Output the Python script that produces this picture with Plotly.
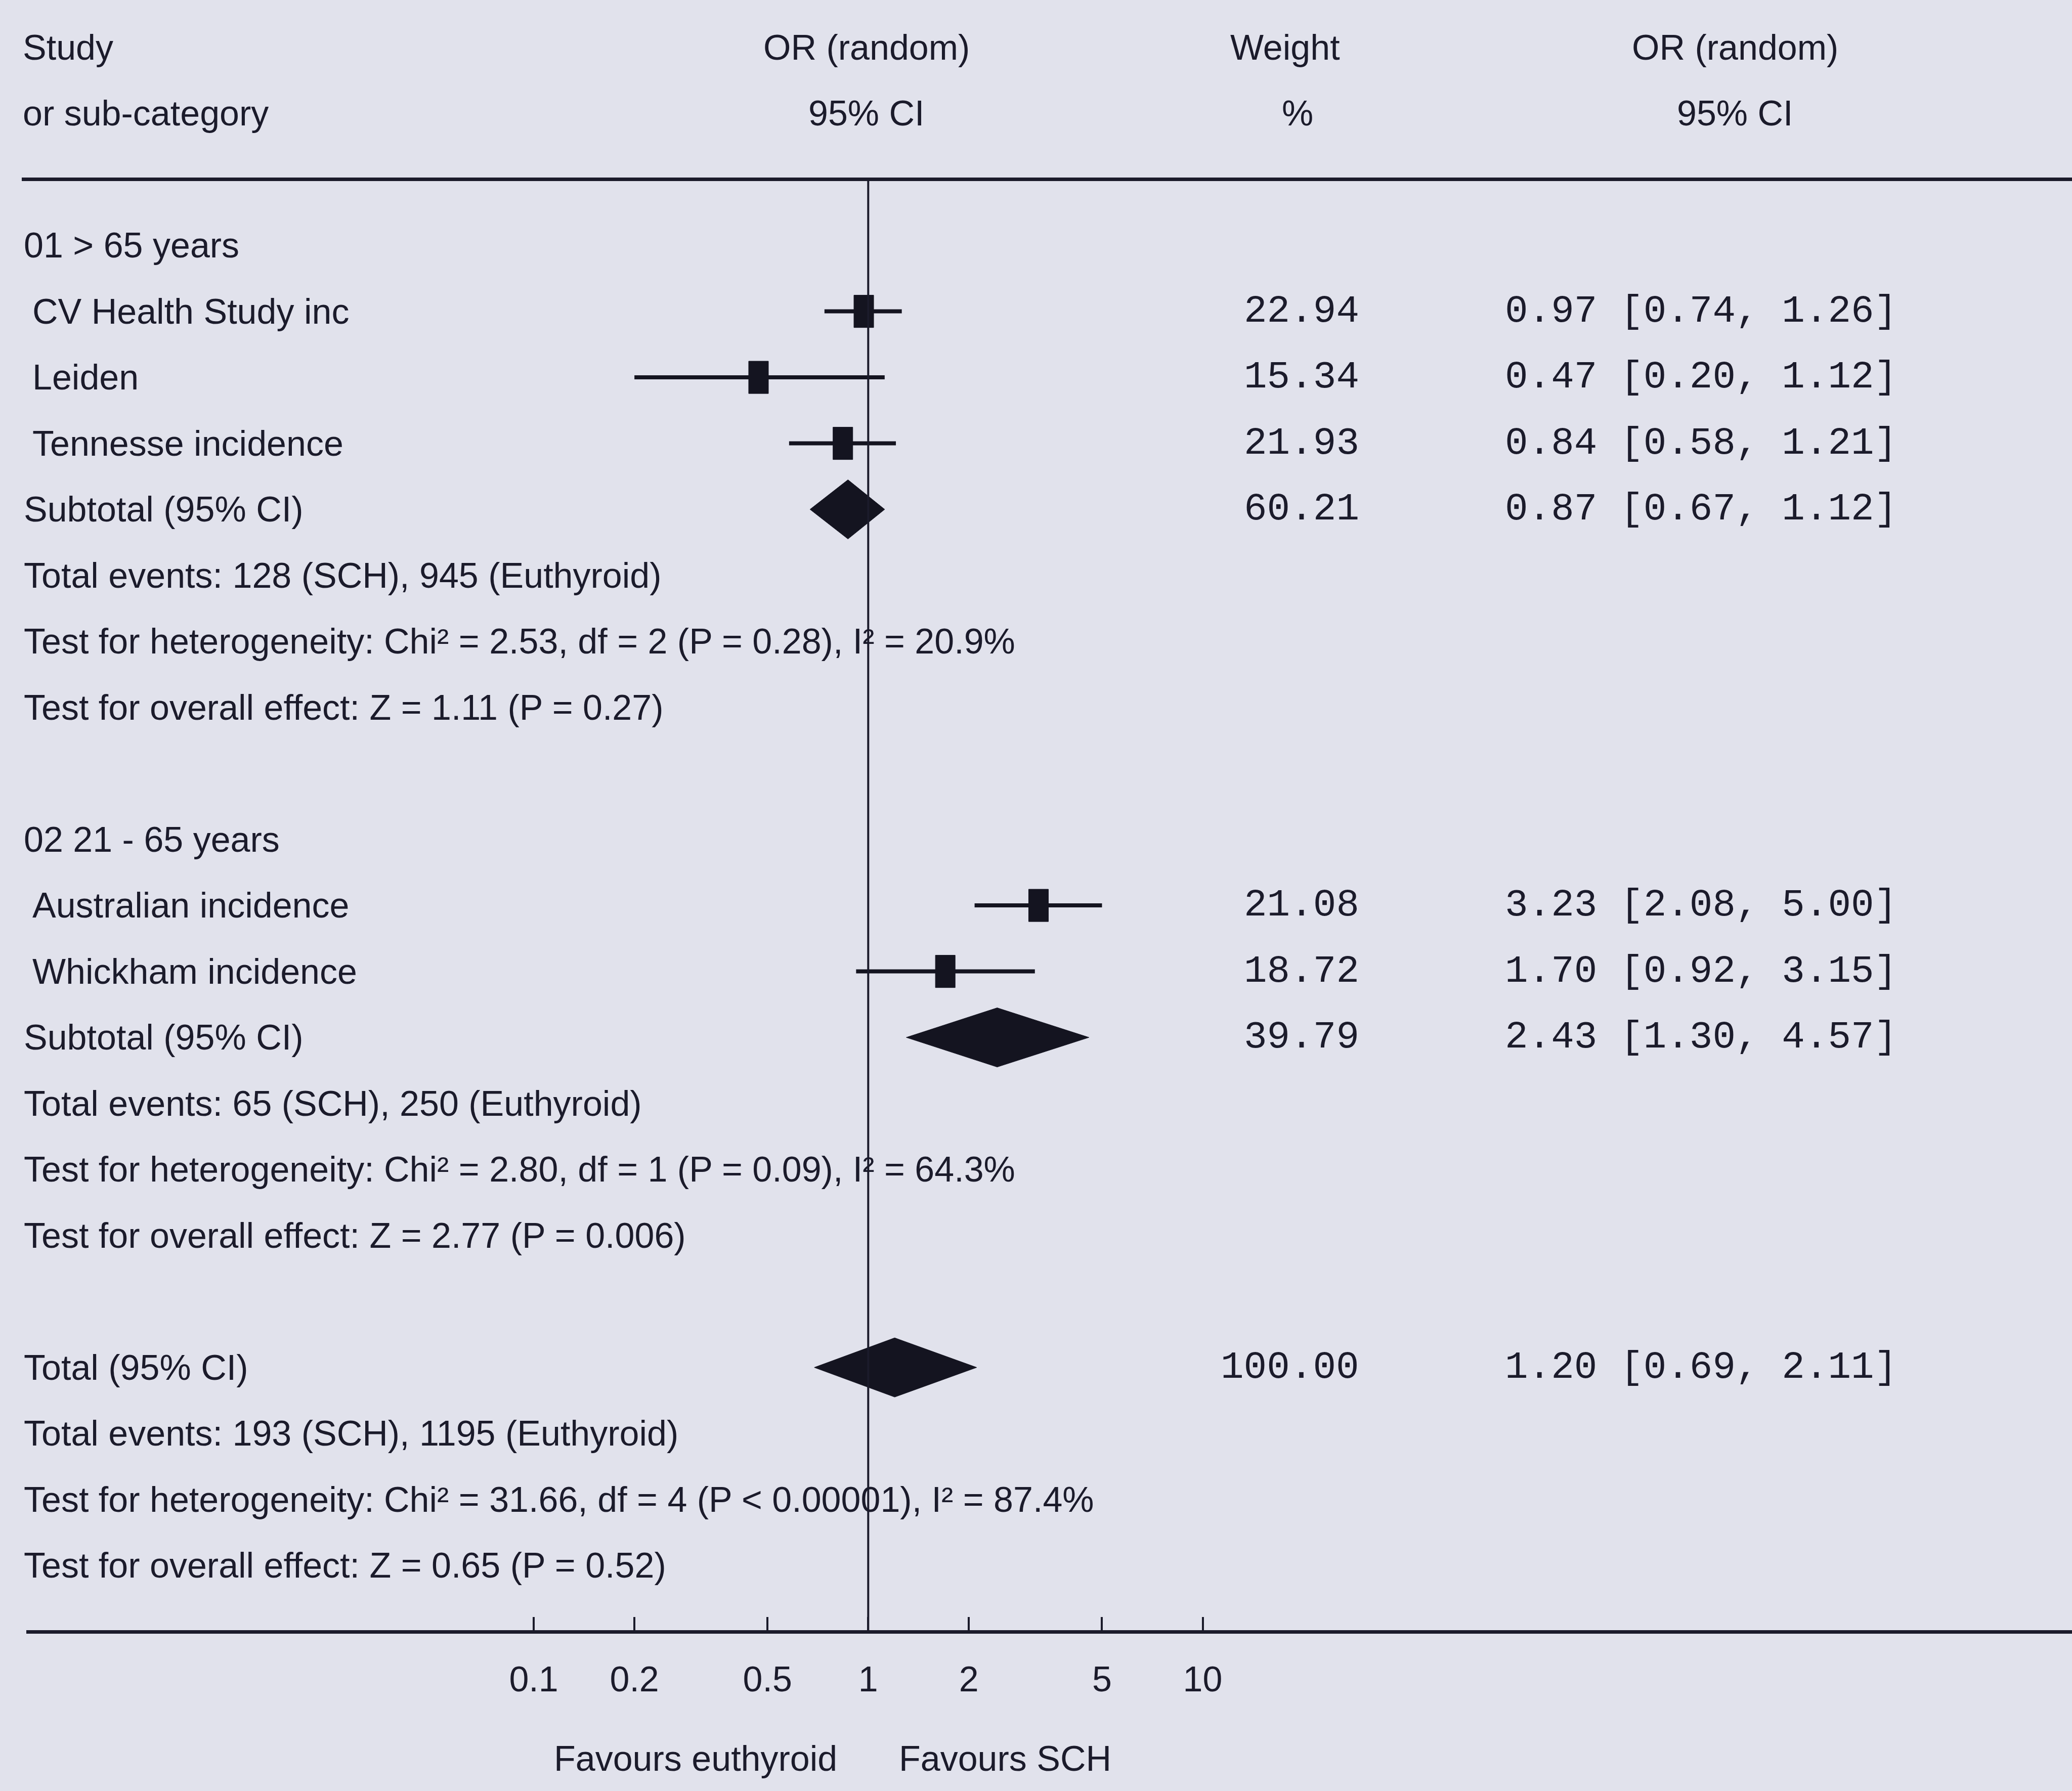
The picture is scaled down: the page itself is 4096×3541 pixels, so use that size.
import plotly.graph_objects as go

# ---------------- data ----------------
group_labels = ["01 > 65 years", "02 21 - 65 years"]

study_names = ["CV Health Study inc", "Leiden", "Tennesse incidence",
               "Australian incidence", "Whickham incidence"]
study_group = [0, 0, 0, 1, 1]
study_or = [0.97, 0.47, 0.84, 3.23, 1.70]
study_lo = [0.74, 0.20, 0.58, 2.08, 0.92]
study_hi = [1.26, 1.12, 1.21, 5.00, 3.15]
study_weight = [22.94, 15.34, 21.93, 21.08, 18.72]

subtotal_or = [0.87, 2.43]
subtotal_lo = [0.67, 1.30]
subtotal_hi = [1.12, 4.57]
subtotal_weight = [60.21, 39.79]

total_or = 1.20
total_lo = 0.69
total_hi = 2.11
total_weight = 100.00

events_text = ["Total events: 128 (SCH), 945 (Euthyroid)",
               "Total events: 65 (SCH), 250 (Euthyroid)",
               "Total events: 193 (SCH), 1195 (Euthyroid)"]
heterogeneity_text = ["Test for heterogeneity: Chi² = 2.53, df = 2 (P = 0.28), I² = 20.9%",
                      "Test for heterogeneity: Chi² = 2.80, df = 1 (P = 0.09), I² = 64.3%",
                      "Test for heterogeneity: Chi² = 31.66, df = 4 (P < 0.00001), I² = 87.4%"]
effect_text = ["Test for overall effect: Z = 1.11 (P = 0.27)",
               "Test for overall effect: Z = 2.77 (P = 0.006)",
               "Test for overall effect: Z = 0.65 (P = 0.52)"]

header_left = ["Study", "or sub-category"]
header_or = ["OR (random)", "95% CI"]
header_weight = ["Weight", "%"]

tick_values = [0.1, 0.2, 0.5, 1, 2, 5, 10]
tick_labels = ["0.1", "0.2", "0.5", "1", "2", "5", "10"]
favours_left = "Favours euthyroid"
favours_right = "Favours SCH"

# ---------------- geometry / style ----------------
W, H = 4096, 3541
ROW0, ROW_H = 485.1, 130.5          # pixel centre of first row, row spacing
X_LEFT = 52                          # where x axis line starts
P01, DEC = 1055.1, 661.2             # pixel of OR=0.1, pixels per decade
r0 = -1 - (P01 - X_LEFT) / DEC
r1 = -1 + (W - P01) / DEC

BG = "#E1E2EC"
INK = "#1b1b2b"
MARK = "#141420"
SANS = "Liberation Sans, Arial, sans-serif"
MONO = "Liberation Mono, Courier New, monospace"
FS = 70
FM = 76

X_TEXT = 45
X_STUDY = 62
X_OR_HDR = 1713
X_W_HDR = 2540
X_W_PCT = 2565
X_W_RIGHT = 2689
X_CI_LEFT = 2973
X_CI_HDR = 3430

SQ_HALF_W = 19.5 / DEC               # decades
SQ_HALF_H = 32.0 / ROW_H             # rows
DIA_HALF_H = 58.5 / ROW_H


def px(p):
    return p / W


def ci_str(o, lo, hi):
    return f"{o:.2f} [{lo:.2f}, {hi:.2f}]"


fig = go.Figure()
ann = []


def text(x, y, s, anchor="left", font=SANS, size=FS):
    ann.append(dict(x=px(x), y=y, xref="paper", yref="y", text=s, showarrow=False,
                    xanchor=anchor, yanchor="middle",
                    font=dict(family=font, size=size, color=INK)))


def diamond(o, lo, hi, k):
    fig.add_trace(go.Scatter(x=[lo, o, hi, o, lo],
                             y=[k, k - DIA_HALF_H, k, k + DIA_HALF_H, k],
                             mode="lines", fill="toself", fillcolor=MARK,
                             line=dict(color=MARK, width=1), hoverinfo="skip",
                             showlegend=False))


# headers
for i in range(2):
    text(X_TEXT - 2, -3 + i, header_left[i])
    text(X_OR_HDR, -3 + i, header_or[i], anchor="center")
    text(X_CI_HDR, -3 + i, header_or[i], anchor="center")
text(X_W_HDR, -3, header_weight[0], anchor="center")
text(X_W_PCT, -2, header_weight[1], anchor="center")

row = 0
for g, glabel in enumerate(group_labels):
    text(X_TEXT, row, glabel)
    row += 1
    for i, name in enumerate(study_names):
        if study_group[i] != g:
            continue
        text(X_STUDY, row, name)
        text(X_W_RIGHT, row, f"{study_weight[i]:.2f}", anchor="right", font=MONO, size=FM)
        text(X_CI_LEFT, row, ci_str(study_or[i], study_lo[i], study_hi[i]), font=MONO, size=FM)
        # CI line
        fig.add_trace(go.Scatter(x=[study_lo[i], study_hi[i]], y=[row, row], mode="lines",
                                 line=dict(color=MARK, width=8), hoverinfo="skip",
                                 showlegend=False))
        # box
        o = study_or[i]
        a, b = o * 10 ** (-SQ_HALF_W), o * 10 ** SQ_HALF_W
        fig.add_trace(go.Scatter(x=[a, b, b, a, a],
                                 y=[row - SQ_HALF_H, row - SQ_HALF_H, row + SQ_HALF_H,
                                    row + SQ_HALF_H, row - SQ_HALF_H],
                                 mode="lines", fill="toself", fillcolor=MARK,
                                 line=dict(color=MARK, width=1), hoverinfo="skip",
                                 showlegend=False))
        row += 1
    text(X_TEXT, row, "Subtotal (95% CI)")
    text(X_W_RIGHT, row, f"{subtotal_weight[g]:.2f}", anchor="right", font=MONO, size=FM)
    text(X_CI_LEFT, row, ci_str(subtotal_or[g], subtotal_lo[g], subtotal_hi[g]), font=MONO, size=FM)
    diamond(subtotal_or[g], subtotal_lo[g], subtotal_hi[g], row)
    row += 1
    text(X_TEXT, row, events_text[g]); row += 1
    text(X_TEXT, row, heterogeneity_text[g]); row += 1
    text(X_TEXT, row, effect_text[g]); row += 1
    row += 1

text(X_TEXT, row, "Total (95% CI)")
text(X_W_RIGHT, row, f"{total_weight:.2f}", anchor="right", font=MONO, size=FM)
text(X_CI_LEFT, row, ci_str(total_or, total_lo, total_hi), font=MONO, size=FM)
diamond(total_or, total_lo, total_hi, row)
row += 1
text(X_TEXT, row, events_text[2]); row += 1
text(X_TEXT, row, heterogeneity_text[2]); row += 1
text(X_TEXT, row, effect_text[2]); row += 1
axis_row = row

# vertical line of no effect
fig.add_trace(go.Scatter(x=[1, 1], y=[-1, axis_row], mode="lines",
                         line=dict(color=INK, width=4), hoverinfo="skip", showlegend=False))

# favours labels
text(1657, axis_row + 1.93, favours_left, anchor="right")
text(1775, axis_row + 1.93, favours_right, anchor="left")

shapes = [dict(type="line", xref="paper", yref="y", x0=px(43), x1=1, y0=-1, y1=-1,
               line=dict(color=INK, width=7))]

y_top = -ROW0 / ROW_H
y_bot = (H - ROW0) / ROW_H
axis_pos = 1 - (ROW0 + axis_row * ROW_H) / H

fig.update_layout(
    width=W, height=H, margin=dict(l=0, r=0, t=0, b=0, pad=0),
    paper_bgcolor=BG, plot_bgcolor=BG, showlegend=False,
    annotations=ann, shapes=shapes,
    xaxis=dict(type="log", range=[r0, r1], domain=[px(X_LEFT), 1],
               anchor="free", position=axis_pos,
               showgrid=False, zeroline=False, showline=True, linewidth=7, linecolor=INK,
               tickvals=tick_values, ticktext=tick_labels, ticks="inside", ticklen=26,
               tickwidth=4, tickcolor=INK, ticklabelstandoff=30,
               tickfont=dict(family=SANS, size=FS, color=INK)),
    yaxis=dict(range=[y_bot, y_top], domain=[0, 1], visible=False,
               showgrid=False, zeroline=False),
)

fig.write_html("out.html")
